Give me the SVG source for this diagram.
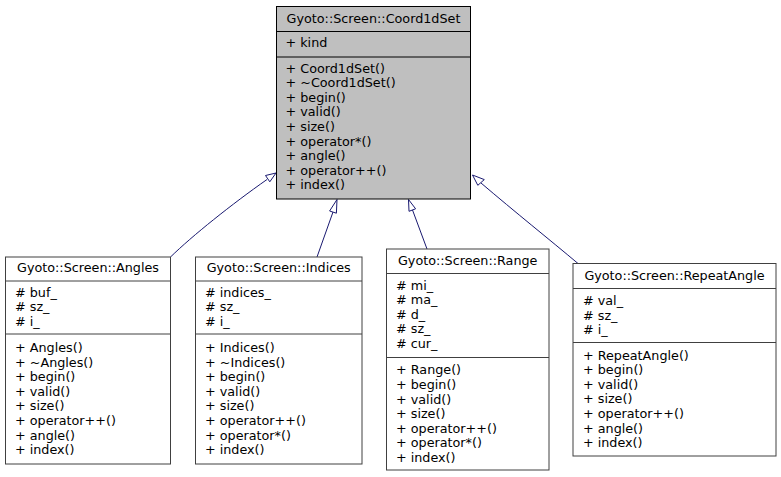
<svg xmlns="http://www.w3.org/2000/svg" width="781" height="477" viewBox="0 0 781 477">
<style>
text{font-family:"DejaVu Sans","Verdana",sans-serif;font-size:12.75px;fill:#000}
.t{text-anchor:middle}
.box{fill:#fff;stroke:#404040;stroke-width:1}
.root{fill:#bfbfbf;stroke:#000;stroke-width:1}
.sep{stroke:#404040;stroke-width:1}
.rsep{stroke:#000;stroke-width:1}
.e{fill:none;stroke:#191970;stroke-width:1}
.ah{fill:#fff;stroke:#191970;stroke-width:1}
</style>
<rect width="781" height="477" fill="#fff"/>
<g id="edges">
<path class="e" d="M170.5,257 C192,236 232,204 267,179.5"/>
<polygon class="ah" points="276,173 265.5,175.5 269.8,181.8"/>
<path class="e" d="M317,257 L333,212"/>
<polygon class="ah" points="337,199.5 329.6,211 336.4,213.2"/>
<path class="e" d="M427,249 L412.5,210"/>
<polygon class="ah" points="408.5,199.5 409,211.3 415.6,208.8"/>
<path class="e" d="M578,263.5 C550,240 515,212 481,183"/>
<polygon class="ah" points="472.5,175 477.8,185.3 484.3,179.6"/>
</g>
<g id="coord1dset">
<rect class="root" x="276.5" y="6.5" width="194" height="192.5"/>
<line class="rsep" x1="276.5" y1="31.5" x2="470.5" y2="31.5"/>
<line class="rsep" x1="276.5" y1="57" x2="470.5" y2="57"/>
<text class="t" x="373.5" y="22.5">Gyoto::Screen::Coord1dSet</text>
<text x="285.5" y="47">+ kind</text>
<text x="285.5" y="72.5">+ Coord1dSet()</text>
<text x="285.5" y="87.1">+ ~Coord1dSet()</text>
<text x="285.5" y="101.7">+ begin()</text>
<text x="285.5" y="116.3">+ valid()</text>
<text x="285.5" y="130.9">+ size()</text>
<text x="285.5" y="145.5">+ operator*()</text>
<text x="285.5" y="160.1">+ angle()</text>
<text x="285.5" y="174.7">+ operator++()</text>
<text x="285.5" y="189.3">+ index()</text>
</g>
<g id="angles">
<rect class="box" x="5.5" y="257" width="165" height="207"/>
<line class="sep" x1="5.5" y1="281" x2="170.5" y2="281"/>
<line class="sep" x1="5.5" y1="334" x2="170.5" y2="334"/>
<text class="t" x="88" y="271.7">Gyoto::Screen::Angles</text>
<text x="15" y="296.8"># buf_</text>
<text x="15" y="311.4"># sz_</text>
<text x="15" y="326"># i_</text>
<text x="15" y="352">+ Angles()</text>
<text x="15" y="366.6">+ ~Angles()</text>
<text x="15" y="381.2">+ begin()</text>
<text x="15" y="395.8">+ valid()</text>
<text x="15" y="410.4">+ size()</text>
<text x="15" y="425">+ operator++()</text>
<text x="15" y="439.6">+ angle()</text>
<text x="15" y="454.2">+ index()</text>
</g>
<g id="indices">
<rect class="box" x="195.5" y="257" width="166.5" height="207"/>
<line class="sep" x1="195.5" y1="281" x2="362" y2="281"/>
<line class="sep" x1="195.5" y1="334" x2="362" y2="334"/>
<text class="t" x="278.7" y="271.7">Gyoto::Screen::Indices</text>
<text x="205" y="296.8"># indices_</text>
<text x="205" y="311.4"># sz_</text>
<text x="205" y="326"># i_</text>
<text x="205" y="352">+ Indices()</text>
<text x="205" y="366.6">+ ~Indices()</text>
<text x="205" y="381.2">+ begin()</text>
<text x="205" y="395.8">+ valid()</text>
<text x="205" y="410.4">+ size()</text>
<text x="205" y="425">+ operator++()</text>
<text x="205" y="439.6">+ operator*()</text>
<text x="205" y="454.2">+ index()</text>
</g>
<g id="range">
<rect class="box" x="386.5" y="249" width="162.5" height="221"/>
<line class="sep" x1="386.5" y1="273.5" x2="549" y2="273.5"/>
<line class="sep" x1="386.5" y1="357.5" x2="549" y2="357.5"/>
<text class="t" x="467.7" y="265.2">Gyoto::Screen::Range</text>
<text x="396" y="289.5"># mi_</text>
<text x="396" y="304.1"># ma_</text>
<text x="396" y="318.7"># d_</text>
<text x="396" y="333.3"># sz_</text>
<text x="396" y="347.9"># cur_</text>
<text x="396" y="374.4">+ Range()</text>
<text x="396" y="389">+ begin()</text>
<text x="396" y="403.6">+ valid()</text>
<text x="396" y="418.2">+ size()</text>
<text x="396" y="432.8">+ operator++()</text>
<text x="396" y="447.4">+ operator*()</text>
<text x="396" y="462">+ index()</text>
</g>
<g id="repeatangle">
<rect class="box" x="573" y="263.5" width="203" height="192.5"/>
<line class="sep" x1="573" y1="288.5" x2="776" y2="288.5"/>
<line class="sep" x1="573" y1="342.5" x2="776" y2="342.5"/>
<text class="t" x="674.5" y="279.5">Gyoto::Screen::RepeatAngle</text>
<text x="583" y="305.2"># val_</text>
<text x="583" y="319.8"># sz_</text>
<text x="583" y="334.4"># i_</text>
<text x="583" y="359.5">+ RepeatAngle()</text>
<text x="583" y="374.1">+ begin()</text>
<text x="583" y="388.7">+ valid()</text>
<text x="583" y="403.3">+ size()</text>
<text x="583" y="417.9">+ operator++()</text>
<text x="583" y="432.5">+ angle()</text>
<text x="583" y="447.1">+ index()</text>
</g>
</svg>
